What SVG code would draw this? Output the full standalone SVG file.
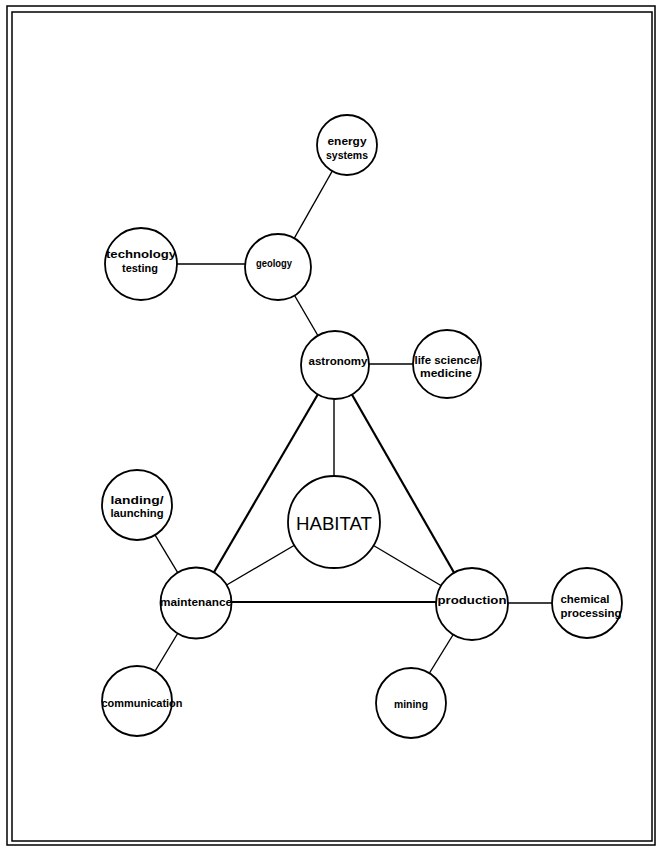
<svg xmlns="http://www.w3.org/2000/svg" width="658" height="847" viewBox="0 0 658 847">
<style>
.frame{fill:none;stroke:#000;stroke-width:1.5}
.node circle{fill:#fff;stroke:#000;stroke-width:1.8}
.node text{font-family:"Liberation Sans",Arial,sans-serif;font-size:11px;font-weight:bold;fill:#000;text-anchor:middle}
#habitat text{font-size:19px;font-weight:normal}
#connectors line{stroke:#000;stroke-width:1.4}
#connectors line.thick{stroke-width:2.2}
</style>
<rect width="658" height="847" fill="#fff"/>
<rect class="frame" x="7" y="6" width="648" height="839"/>
<rect class="frame" x="12" y="12" width="640" height="829"/>
<g id="connectors">
<line x1="347" y1="145" x2="278" y2="267"/>
<line x1="141" y1="264" x2="278" y2="264"/>
<line x1="278" y1="267" x2="335" y2="365"/>
<line x1="335" y1="364" x2="447" y2="364"/>
<line x1="334" y1="365" x2="334" y2="522"/>
<line class="thick" x1="335" y1="365" x2="196" y2="603"/>
<line class="thick" x1="335" y1="365" x2="472" y2="604"/>
<line x1="334" y1="522" x2="196" y2="603"/>
<line x1="334" y1="522" x2="472" y2="604"/>
<line class="thick" x1="196" y1="602" x2="472" y2="602"/>
<line x1="137" y1="505" x2="196" y2="603"/>
<line x1="196" y1="603" x2="137" y2="701"/>
<line x1="472" y1="603" x2="587" y2="603"/>
<line x1="472" y1="604" x2="411" y2="703"/>
</g>
<g id="energy" class="node"><circle cx="347" cy="145" r="30"/><text x="347" y="145" textLength="39" lengthAdjust="spacingAndGlyphs">energy</text><text x="347" y="159" textLength="42" lengthAdjust="spacingAndGlyphs">systems</text></g>
<g id="geology" class="node"><circle cx="278" cy="267" r="33"/><text x="274" y="267" textLength="36" lengthAdjust="spacingAndGlyphs">geology</text></g>
<g id="technology" class="node"><circle cx="141" cy="264" r="36"/><text x="141" y="258" textLength="70" lengthAdjust="spacingAndGlyphs">technology</text><text x="140" y="272" textLength="36" lengthAdjust="spacingAndGlyphs">testing</text></g>
<g id="astronomy" class="node"><circle cx="335" cy="365" r="34"/><text x="338" y="365" textLength="59" lengthAdjust="spacingAndGlyphs">astronomy</text></g>
<g id="lifescience" class="node"><circle cx="447" cy="364" r="34"/><text x="447" y="364" textLength="65" lengthAdjust="spacingAndGlyphs">life science/</text><text x="446" y="377" textLength="52" lengthAdjust="spacingAndGlyphs">medicine</text></g>
<g id="habitat" class="node"><circle cx="334" cy="522" r="46"/><text x="334" y="530" textLength="76" lengthAdjust="spacingAndGlyphs">HABITAT</text></g>
<g id="landing" class="node"><circle cx="137" cy="505" r="35"/><text x="137" y="504" textLength="53" lengthAdjust="spacingAndGlyphs">landing/</text><text x="137" y="517" textLength="53" lengthAdjust="spacingAndGlyphs">launching</text></g>
<g id="maintenance" class="node"><circle cx="196" cy="603" r="35.5"/><text x="196" y="606" textLength="72" lengthAdjust="spacingAndGlyphs">maintenance</text></g>
<g id="production" class="node"><circle cx="472" cy="604" r="36"/><text x="472" y="604" textLength="69" lengthAdjust="spacingAndGlyphs">production</text></g>
<g id="chemical" class="node"><circle cx="587" cy="603" r="35"/><text x="585" y="603" textLength="49" lengthAdjust="spacingAndGlyphs">chemical</text><text x="591" y="617" textLength="61" lengthAdjust="spacingAndGlyphs">processing</text></g>
<g id="communication" class="node"><circle cx="137" cy="701" r="35"/><text x="142" y="707" textLength="81" lengthAdjust="spacingAndGlyphs">communication</text></g>
<g id="mining" class="node"><circle cx="411" cy="703" r="35"/><text x="411" y="708" textLength="34" lengthAdjust="spacingAndGlyphs">mining</text></g>
</svg>
